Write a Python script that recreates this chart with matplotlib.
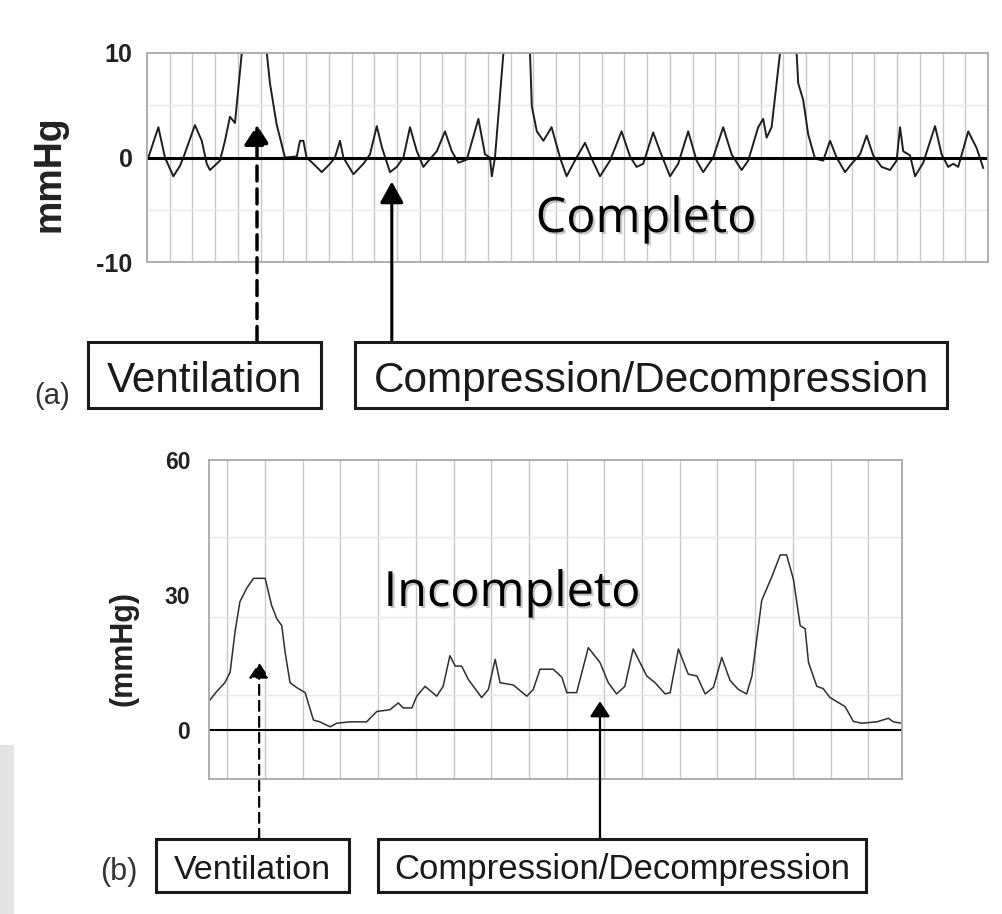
import matplotlib
matplotlib.use("Agg")
import matplotlib.pyplot as plt
import matplotlib.patheffects as pe
from matplotlib.patches import Rectangle

plt.rcParams["axes.unicode_minus"] = False

# (a) complete chest recoil: thoracic pressure trace, mmHg
top_t = [0.06, 0.50, 0.79, 1.16, 1.45, 1.60, 2.11, 2.41, 2.63, 2.77, 3.21, 3.43,
         3.65, 3.87, 4.17, 4.45, 4.95, 5.27, 5.41, 5.70, 6.07, 6.59, 6.73, 6.88,
         7.02, 7.32, 7.69, 8.05, 8.27, 8.49, 8.64, 9.08, 9.52, 9.81, 10.11, 10.33,
         10.69, 10.99, 11.28, 11.57, 11.87, 12.16, 12.31, 12.75, 13.11, 13.41,
         13.70, 14.07, 14.58, 14.87, 15.09, 15.17, 15.31, 15.68, 15.95, 16.60,
         16.85, 16.93, 17.15, 17.44, 17.80, 18.17, 18.46, 18.90, 19.27, 19.56,
         19.93, 20.37, 20.88, 21.25, 21.54, 21.83, 22.27, 22.57, 23.01, 23.37,
         23.81, 24.18, 24.47, 24.91, 25.35, 25.72, 26.16, 26.45, 26.89, 27.11,
         27.26, 27.48, 27.85, 28.10, 28.50, 28.58, 28.65, 28.87, 29.09, 29.39,
         29.75, 30.05, 30.34, 30.71, 31.00, 31.37, 31.66, 31.95, 32.32, 32.69,
         32.98, 33.13, 33.27, 33.57, 33.79, 34.15, 34.67, 34.96, 35.25, 35.47,
         35.69, 36.13, 36.50, 36.79]
top_p = [0, 2.9, 0, -1.8, -0.8, 0, 3.1, 1.6, -0.6, -1.2, -0.3, 1.6,
         3.9, 3.3, 10, 16, 16, 10, 7.1, 3.2, 0, 0.1, 1.6, 1.6,
         0, -0.6, -1.4, -0.6, 0, 1.6, 0, -1.6, -0.6, 0.3, 3.0, 1.0,
         -1.4, -0.9, 0, 2.9, 0.6, -0.9, -0.5, 0.6, 2.5, 0.6,
         -0.5, -0.2, 3.7, 0.3, 0, -1.8, 0, 10, 16, 16,
         10, 4.9, 2.5, 1.6, 2.9, 0, -1.8, 0, 1.4, -0.1,
         -1.8, -0.3, 2.5, 0.1, -0.9, -0.6, 2.4, 0.6, -1.8, -0.6,
         2.5, -0.3, -1.4, 0, 2.9, 0.3, -1.2, -0.3, 2.9, 3.7,
         1.9, 2.9, 10, 16, 16, 10, 7.1, 5.5, 2.2, -0.1,
         -0.3, 1.6, 0, -1.4, -0.6, 0.3, 2.1, 0.2, -0.9, -1.2,
         -0.3, 2.9, 0.6, 0.2, -1.8, -0.5, 3.0, 0.3, -0.9, -0.6,
         -0.9, 2.5, 0.9, -1.0]

# (b) incomplete chest recoil
bot_t = [0.03, 0.20, 0.42, 0.56, 0.69, 0.82, 1.00, 1.18, 1.49, 1.66, 1.80, 1.93,
         2.02, 2.15, 2.33, 2.55, 2.77, 2.94, 3.21, 3.39, 3.74, 4.18, 4.45, 4.80,
         5.02, 5.15, 5.38, 5.51, 5.73, 6.04, 6.21, 6.39, 6.53, 6.70, 6.88, 7.23,
         7.41, 7.59, 7.72, 8.07, 8.43, 8.60, 8.78, 9.13, 9.36, 9.49, 9.75, 10.06,
         10.37, 10.59, 10.81, 11.03, 11.25, 11.61, 11.83, 12.10, 12.23, 12.45,
         12.71, 12.94, 13.16, 13.38, 13.60, 13.82, 14.04, 14.26, 14.40, 14.66,
         14.93, 15.15, 15.32, 15.50, 15.68, 15.81, 15.90, 16.12, 16.29, 16.47,
         16.87, 17.09, 17.31, 17.71, 18.02, 18.15, 18.37]
bot_p = [6.7, 8.5, 10.5, 12.8, 21.8, 28.5, 31.5, 33.7, 33.7, 27.7, 24.7, 23.2,
         17.2, 10.5, 9.4, 8.3, 2.2, 1.8, 0.7, 1.5, 1.8, 1.8, 4.1, 4.5,
         6.0, 4.9, 4.9, 7.5, 9.7, 7.5, 9.7, 16.5, 14.2, 14.2, 11.2, 7.2,
         9.0, 15.7, 10.5, 10.0, 7.5, 9.0, 13.5, 13.5, 11.7, 8.3, 8.3, 18.3,
         15.0, 10.5, 8.0, 9.7, 18.0, 12.0, 10.5, 8.0, 8.3, 18.0,
         12.4, 12.0, 8.0, 9.5, 16.1, 11.0, 9.0, 8.0, 12.0, 28.8,
         34.1, 38.9, 38.9, 33.5, 23.2, 22.5, 15.0, 9.7, 9.2, 7.2,
         5.2, 1.9, 1.5, 1.8, 2.6, 1.8, 1.5]

top_yticks = [-10, 0, 10]
bot_yticks = [0, 30, 60]
box_labels = ["Ventilation", "Compression/Decompression"]

W, H = 1002, 914
fig = plt.figure(figsize=(W / 100, H / 100), dpi=100)

# light grey edge of the slide, lower left
fig.add_artist(Rectangle((0, 0), 14 / W, 169 / H, transform=fig.transFigure,
                         color="#e4e4e4", lw=0))


def px_rect(l, t, r, b):
    return [l / W, 1 - b / H, (r - l) / W, (b - t) / H]


def style_axes(ax, xgrid, ygrid, ticks, fsize, pad):
    ax.set_xticks(xgrid)
    ax.set_xticklabels([])
    ax.set_yticks(ticks)
    ax.set_yticks(ygrid, minor=True)
    ax.tick_params(length=0, which="both", pad=pad)
    for lab in ax.get_yticklabels():
        lab.set_fontweight("bold")
        lab.set_fontsize(fsize)
        lab.set_family("Liberation Sans")
        lab.set_color("#222222")
    ax.grid(axis="x", color="#c8c8c8", lw=1.0)
    ax.grid(axis="y", which="minor", color="#e8e8e8", lw=1.0)
    for s in ax.spines.values():
        s.set_color("#a8a8a8")
        s.set_linewidth(1.3)


def arrow(ax, x, tip, tail, dashed, lw, hl, hw, dash):
    ls = (0, dash) if dashed else "-"
    ax.annotate("", xy=(x, tip), xytext=(x, tail), annotation_clip=False,
                arrowprops=dict(arrowstyle=f"-|>,head_length={hl},head_width={hw}",
                                mutation_scale=10, lw=lw, ls=ls, color="black",
                                shrinkA=0, shrinkB=0))


# top panel
ax1 = fig.add_axes(px_rect(147, 53, 988, 262))
ax1.plot(top_t, top_p, color="#1e1e1e", lw=1.4)
ax1.axhline(0, color="black", lw=2.2)
ax1.set_xlim(0, 37)
ax1.set_ylim(-10, 10)
style_axes(ax1, range(1, 37), [-5, 5], top_yticks, 18, 10.5)
arrow(ax1, 4.84, 3.1, -17.6, True, 2.5, 1.22, 0.79, (4.3, 2.3))
arrow(ax1, 10.77, -2.3, -17.6, False, 2.2, 1.3, 0.72, None)

# bottom panel
ax2 = fig.add_axes(px_rect(209, 460, 902, 779))
ax2.plot(bot_t, bot_p, color="#2e2e2e", lw=1.1)
ax2.axhline(0, color="black", lw=1.5)
ax2.set_xlim(0, 18.38)
ax2.set_ylim(-10.9, 60)
style_axes(ax2, [0.485 + k for k in range(18)], [7.8, 25.1, 42.9],
           bot_yticks, 16.5, 13.5)
arrow(ax2, 1.33, 15.0, -24.2, True, 1.6, 0.94, 0.61, (4.5, 2.7))
arrow(ax2, 10.37, 6.4, -24.2, False, 1.6, 0.94, 0.61, None)

# y axis titles
fig.text(49 / W, 1 - 174 / H, "mmHg", rotation=90, ha="center", va="center",
         fontsize=27, fontweight="bold", family="Liberation Sans", color="#222222")
fig.text(124 / W, 1 - 648 / H, "(mmHg)", rotation=90, ha="center", va="center",
         fontsize=22, fontweight="bold", family="Liberation Sans", color="#222222")


def label_box(l, t, r, b, base, text, size):
    fig.add_artist(Rectangle((l / W, 1 - b / H), (r - l) / W, (b - t) / H,
                             transform=fig.transFigure, fill=False,
                             ec="#1a1a1a", lw=2.2))
    fig.text((l + r) / 2 / W, 1 - base / H, text, ha="center", va="baseline",
             fontsize=size, family="Liberation Sans", color="#1a1a1a")


label_box(88, 342, 321, 408, 392, box_labels[0], 30.5)
label_box(355, 342, 947, 408, 392, box_labels[1], 30.5)
label_box(156, 839, 349, 892, 879, box_labels[0], 24.5)
label_box(378, 839, 866, 892, 879, box_labels[1], 25)
fig.text(52 / W, 1 - 404 / H, "(a)", ha="center", va="baseline", fontsize=21,
         family="Liberation Sans", color="#333333")
fig.text(119 / W, 1 - 880 / H, "(b)", ha="center", va="baseline", fontsize=22,
         family="Liberation Sans", color="#333333")

# slide captions
shadow = [pe.withSimplePatchShadow(offset=(1.5, -1.5), shadow_rgbFace="#888888", alpha=0.5)]
fig.text(646 / W, 1 - 232 / H, "Completo", ha="center", va="baseline",
         fontsize=35, family="Open Sans", color="black", path_effects=shadow)
fig.text(512 / W, 1 - 606 / H, "Incompleto", ha="center", va="baseline",
         fontsize=35, family="Open Sans", color="black", path_effects=shadow)

fig.savefig("out.png", dpi=100)
